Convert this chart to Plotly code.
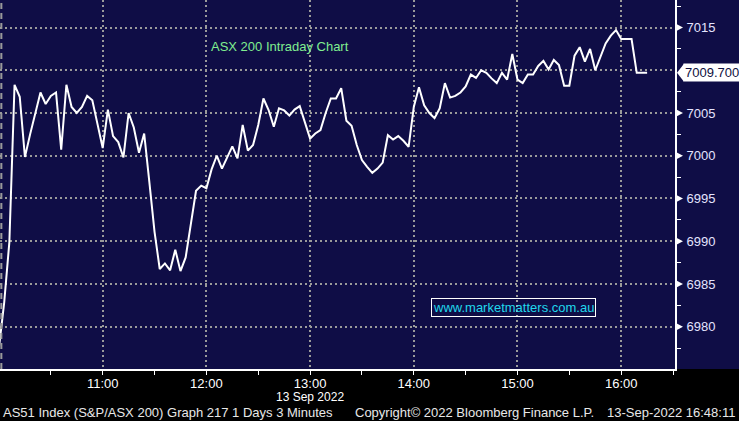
import plotly.graph_objects as go
import pandas as pd

# ---- data ----
start_time = "2022-09-13 10:00"
interval_minutes = 3
prices = [
    6977.6, 6982.8, 6989.9, 7008.3, 7006.9, 6999.85, 7002.5, 7005.0, 7007.4, 7006.05,
    7007.0, 7007.4, 7000.7, 7008.3, 7005.7, 7005.0, 7005.7, 7007.0, 7006.5, 7003.7,
    7000.9, 7005.4, 7002.3, 7001.6, 6999.8, 7005.0, 7003.3, 7000.35, 7002.6, 6996.9,
    6991.1, 6986.75, 6987.4, 6986.6, 6989.0, 6986.5, 6988.1, 6992.0, 6995.9, 6996.5,
    6996.2, 6998.4, 7000.0, 6998.5, 6999.9, 7001.1, 6999.7, 7003.6, 7000.6, 7001.25,
    7003.6, 7006.7, 7005.35, 7003.4, 7005.55, 7005.3, 7004.7, 7005.4, 7005.8, 7004.0,
    7002.0, 7002.6, 7003.0, 7005.0, 7006.7, 7006.7, 7007.9, 7004.1, 7003.5, 7001.25,
    6999.5, 6998.7, 6998.0, 6998.5, 6999.2, 7002.4, 7001.9, 7002.3, 7001.75, 7001.05,
    7005.7, 7008.0, 7005.9, 7005.0, 7004.4, 7005.55, 7008.5, 7006.8, 7007.0, 7007.4,
    7008.1, 7009.5, 7009.1, 7010.0, 7009.7, 7009.05, 7008.5, 7009.7, 7008.9, 7011.9,
    7008.9, 7008.5, 7009.5, 7009.5, 7010.5, 7011.1, 7010.1, 7011.2, 7010.6, 7008.2,
    7008.2, 7011.7, 7012.7, 7011.0, 7012.5, 7010.0, 7011.6, 7013.15, 7014.05, 7014.7,
    7013.65, 7013.65, 7013.65, 7009.7, 7009.7, 7009.7,
]
times = pd.date_range(start_time, periods=len(prices), freq=f"{interval_minutes}min")

y_tick_values = [6980, 6985, 6990, 6995, 7000, 7005, 7010, 7015]
y_tick_labels = ["6980", "6985", "6990", "6995", "7000", "7005", "", "7015"]
last_price_label = "7009.700"
title_text = "ASX 200 Intraday Chart"
date_label = "13 Sep 2022"
watermark = "www.marketmatters.com.au"
footer_left = "AS51 Index (S&P/ASX 200) Graph 217 1 Days 3 Minutes"
footer_mid = "Copyright\u00a9 2022 Bloomberg Finance L.P."
footer_right = "13-Sep-2022 16:48:11"

# ---- style ----
W, H = 739, 421
PL, PR, PT, PB = 0, 64, 0, 52
plot_w = W - PL - PR
plot_h = H - PT - PB
NAVY = "#0f0d46"
GRID = "#9a9a9a"
FONT = "Liberation Sans, Arial, sans-serif"
Y_RANGE = [6975.05, 7018.22]

def px_x(p):  # pixel -> paper x
    return (p - PL) / plot_w

def px_y(p):  # pixel -> paper y
    return (H - PB - p) / plot_h

fig = go.Figure()
fig.add_trace(go.Scatter(x=times, y=prices, mode="lines",
                         line=dict(color="white", width=2), hoverinfo="skip",
                         showlegend=False))

fig.update_layout(
    width=W, height=H,
    margin=dict(l=PL, r=PR, t=PT, b=PB),
    paper_bgcolor="black", plot_bgcolor=NAVY,
    font=dict(family=FONT, size=13, color="white"),
    showlegend=False,
)

fig.update_xaxes(
    range=["2022-09-13 10:00:35", "2022-09-13 16:31:08"],
    type="date", tickformat="%H:%M", dtick=3600000, tick0="2022-09-13 10:00",
    showgrid=True, gridcolor=GRID, gridwidth=2, griddash="2px,3px",
    showline=True, linecolor="white", linewidth=2,
    ticks="outside", ticklen=4, tickcolor="white", tickwidth=1,
    ticklabelstandoff=-3,
    tickfont=dict(family=FONT, size=13, color="white"),
    minor=dict(dtick=1800000, ticks="outside", ticklen=4, tickcolor="white", showgrid=False),
    zeroline=False, fixedrange=True,
)
fig.update_yaxes(
    range=Y_RANGE, side="right",
    tickvals=y_tick_values, ticktext=y_tick_labels,
    showgrid=True, gridcolor=GRID, gridwidth=2, griddash="2px,3px",
    showline=True, linecolor="white", linewidth=2,
    ticks="outside", ticklen=7, tickcolor=NAVY, tickwidth=1,
    tickfont=dict(family=FONT, size=13, color="#e4e4ff"),
    minor=dict(dtick=2.5, ticks="outside", ticklen=4, tickcolor="white", showgrid=False),
    zeroline=False, fixedrange=True,
)

unit_px = plot_h / (Y_RANGE[1] - Y_RANGE[0])
shapes = []
# navy background for the right axis area
shapes.append(dict(type="rect", xref="paper", yref="paper", x0=1, x1=W / plot_w, y0=0, y1=1,
                   fillcolor=NAVY, line=dict(width=0), layer="below"))
# left dashed edge line
shapes.append(dict(type="line", xref="paper", yref="paper", x0=0.002, x1=0.002, y0=0, y1=1,
                   line=dict(color=GRID, width=2, dash="6px,4px")))
# tick flags on right axis
tri_w = 8 / plot_w
tri_h = 3.5 / unit_px
for v, lab in zip(y_tick_values, y_tick_labels):
    if lab == "":
        continue
    shapes.append(dict(type="path", xref="paper", yref="y",
                       path=f"M 1.002,{v + tri_h} L {1 + tri_w},{v} L 1.002,{v - tri_h} Z",
                       fillcolor="white", line=dict(width=0)))
# last price arrow
last = prices[-1]
box_h = 9 / unit_px
shapes.append(dict(type="path", xref="paper", yref="y",
                   path=f"M {px_x(677)},{last} L {px_x(684)},{last + box_h} L {px_x(684)},{last - box_h} Z",
                   fillcolor="white", line=dict(width=0)))
fig.update_layout(shapes=shapes)

ann = []
ann.append(dict(xref="paper", yref="y", x=px_x(683), y=last, text=last_price_label,
                xanchor="left", yanchor="middle", showarrow=False, bgcolor="white",
                borderpad=1, font=dict(family=FONT, size=13, color="#101040")))
ann.append(dict(xref="paper", yref="paper", x=px_x(209), y=px_y(46), text=title_text,
                xanchor="left", yanchor="middle", showarrow=False,
                font=dict(family=FONT, size=13, color="#80ee90")))
ann.append(dict(xref="paper", yref="paper", x=px_x(513), y=px_y(307.5), text=watermark,
                xanchor="center", yanchor="middle", showarrow=False,
                bordercolor="white", borderwidth=1, borderpad=1,
                font=dict(family=FONT, size=13, color="#20d8ec")))
ann.append(dict(xref="x", yref="paper", x="2022-09-13 13:00", y=px_y(397.5), text=date_label,
                xanchor="center", yanchor="middle", showarrow=False,
                font=dict(family=FONT, size=12, color="white")))
ann.append(dict(xref="paper", yref="paper", x=px_x(1), y=px_y(412), text=footer_left,
                xanchor="left", yanchor="middle", showarrow=False,
                font=dict(family=FONT, size=13, color="#e8e8e8")))
ann.append(dict(xref="paper", yref="paper", x=px_x(353), y=px_y(412), text=footer_mid,
                xanchor="left", yanchor="middle", showarrow=False,
                font=dict(family=FONT, size=13, color="#e8e8e8")))
ann.append(dict(xref="paper", yref="paper", x=px_x(737), y=px_y(412), text=footer_right,
                xanchor="right", yanchor="middle", showarrow=False,
                font=dict(family=FONT, size=13, color="#e8e8e8")))
fig.update_layout(annotations=ann)

fig.write_html("out.html", config={"displayModeBar": False},
               post_script="document.body.style.margin='0';document.body.style.background='black';")
